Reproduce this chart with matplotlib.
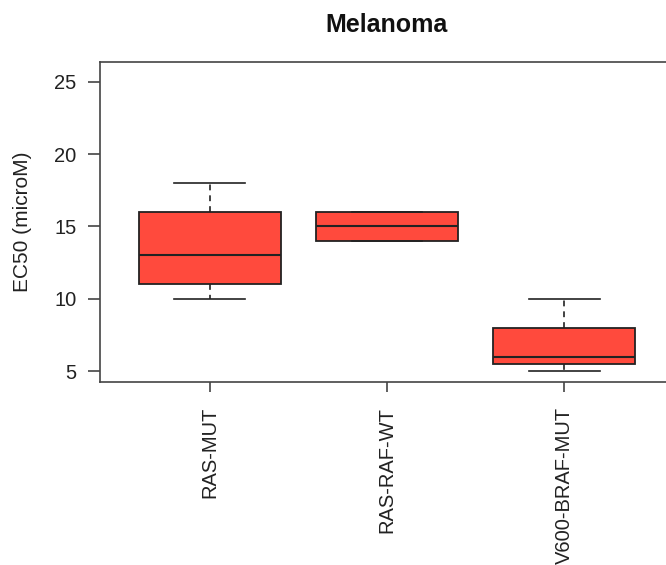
import matplotlib
matplotlib.use("Agg")
import matplotlib.pyplot as plt

plt.rcParams['font.family'] = ['Liberation Sans', 'DejaVu Sans']

# box statistics
groups = ["RAS-MUT", "RAS-RAF-WT", "V600-BRAF-MUT"]
whislo = [10, 14, 5]
q1 = [11, 14, 5.5]
med = [13, 15, 6]
q3 = [16, 16, 8]
whishi = [18, 16, 10]

fill = "#FF4A3D"
ink = "#222222"


def main():
    fig = plt.figure(figsize=(6.66, 5.65), dpi=100)
    ax = fig.add_axes([100 / 666, 183 / 565, 574 / 666, 320 / 565])

    stats = []
    for i, g in enumerate(groups):
        stats.append(dict(label=g, whislo=whislo[i], q1=q1[i], med=med[i],
                          q3=q3[i], whishi=whishi[i], fliers=[]))

    ax.bxp(stats, positions=[1, 2, 3], widths=0.8, patch_artist=True,
           showfliers=False,
           boxprops=dict(facecolor=fill, edgecolor=ink, linewidth=1.3),
           medianprops=dict(color=ink, linewidth=1.5),
           whiskerprops=dict(color=ink, linewidth=1.2, linestyle=(0, (3.5, 3))),
           capprops=dict(color=ink, linewidth=1.2),
           capwidths=0.4)

    ax.set_xlim(0.38, 3.62)
    ax.set_ylim(4.24, 26.36)
    ax.set_yticks([5, 10, 15, 20, 25])
    ax.set_xticks([1, 2, 3])
    ax.set_xticklabels(groups, rotation=90)

    for s in ax.spines.values():
        s.set_color("#444444")
        s.set_linewidth(1.2)
    ax.tick_params(axis='y', direction='out', length=9, width=1.2,
                   pad=8, labelsize=14.5, colors="#444444", labelcolor=ink)
    ax.tick_params(axis='x', direction='out', length=7, width=1.2,
                   pad=11, labelsize=14.5, colors="#444444", labelcolor=ink)

    ax.set_ylabel("EC50 (microM)", fontsize=15, color=ink, labelpad=16)
    fig.text(387 / 666, 1 - 25 / 565, "Melanoma", ha='center', va='center',
             fontsize=18, fontweight='bold', color="#111111")

    fig.savefig("out.png", dpi=100)


if __name__ == "__main__":
    main()
